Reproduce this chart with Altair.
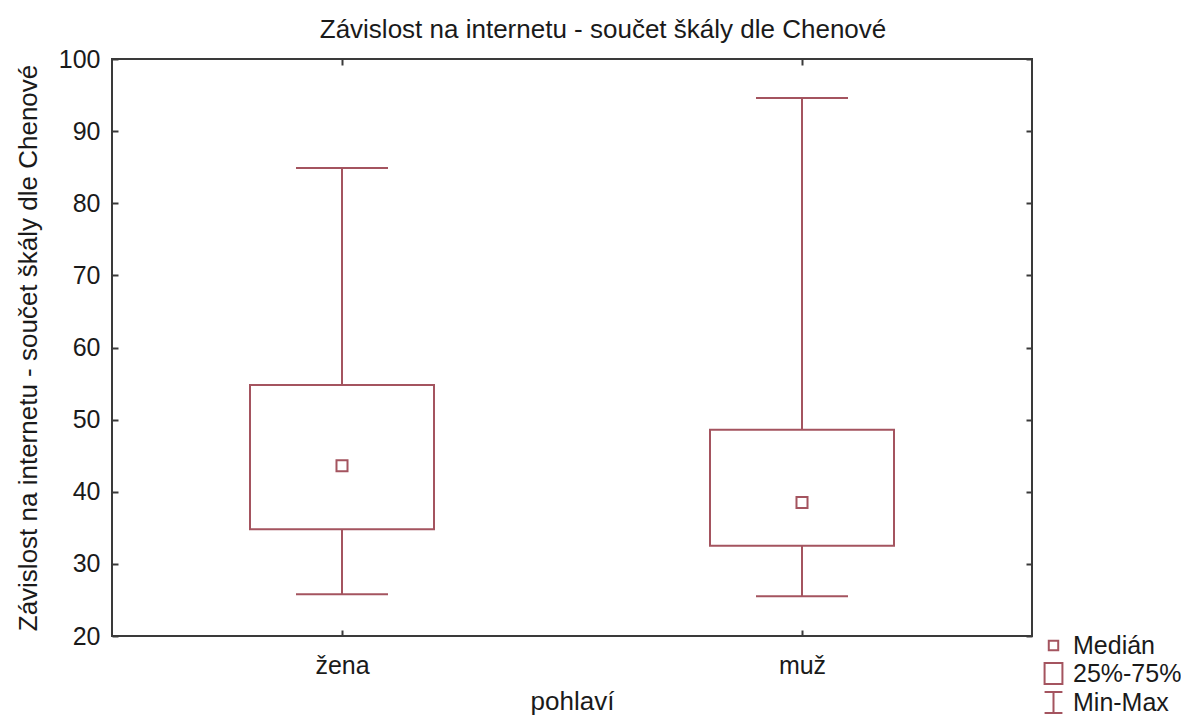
import altair as alt
import pandas as pd

# ---- data ----
categories = ["žena", "muž"]
mins = [25.8, 25.5]
q1s = [34.8, 32.5]
medians = [43.6, 38.5]
q3s = [54.8, 48.6]
maxs = [84.9, 94.6]
y_ticks = [20, 30, 40, 50, 60, 70, 80, 90, 100]
legend_labels = ["Medián", "25%-75%", "Min-Max"]

title_text = "Závislost na internetu - součet škály dle Chenové"
y_title = "Závislost na internetu - součet škály dle Chenové"
x_title = "pohlaví"

# ---- styles ----
COLOR = "#a4545f"
FRAME = "#3a3a3a"
TEXT = "#1a1a1a"
FONT = "Liberation Sans"

df = pd.DataFrame({
    "cat": categories,
    "min": mins,
    "q1": q1s,
    "median": medians,
    "q3": q3s,
    "max": maxs,
})
df["pos"] = df.index + 0.5
df["box_lo"] = df["pos"] - 0.2
df["box_hi"] = df["pos"] + 0.2
df["cap_lo"] = df["pos"] - 0.1
df["cap_hi"] = df["pos"] + 0.1
df["stat"] = legend_labels[0]

tick_pos = list(df["pos"])
label_expr = "'" + categories[-1] + "'"
for i in range(len(categories) - 2, -1, -1):
    label_expr = f"datum.value == {tick_pos[i]} ? '{categories[i]}' : " + label_expr

xscale = alt.Scale(domain=[0, len(categories)], nice=False, zero=False)
yscale = alt.Scale(domain=[20, 100], nice=False, zero=False)

shape_paths = [
    "M-0.45,-0.45H0.45V0.45H-0.45Z",
    "M-0.85,-1H0.85V1H-0.85Z",
    "M-0.85,-1H0.85M0,-1V1M-0.85,1H0.85",
]

base = alt.Chart(df)

# lower whiskers carry the left + bottom axes
lower = base.mark_rule(color=COLOR, strokeWidth=2).encode(
    x=alt.X("pos:Q", scale=xscale, axis=alt.Axis(
        orient="bottom", values=tick_pos, labelExpr=label_expr,
        title=x_title, offset=-6, tickSize=6, domain=False, grid=False,
        labelPadding=17, titleBaseline="alphabetic", titleY=79)),
    y=alt.Y("min:Q", scale=yscale, axis=alt.Axis(
        orient="left", values=y_ticks, title=y_title, offset=-6,
        tickSize=6, domain=False, grid=False, labelPadding=12,
        titleBaseline="alphabetic", titleX=-82)),
    y2="q1:Q",
)

# upper whiskers carry the top + right axes (ticks only)
upper = base.mark_rule(color=COLOR, strokeWidth=2).encode(
    x=alt.X("pos:Q", scale=xscale, axis=alt.Axis(
        orient="top", values=tick_pos, labels=False, title=None,
        offset=-6, tickSize=6, domain=False, grid=False)),
    y=alt.Y("q3:Q", scale=yscale, axis=alt.Axis(
        orient="right", values=y_ticks, labels=False, title=None,
        offset=-6, tickSize=6, domain=False, grid=False)),
    y2="max:Q",
)

cap_min = base.mark_rule(color=COLOR, strokeWidth=2).encode(
    x=alt.X("cap_lo:Q", scale=xscale, axis=None),
    x2="cap_hi:Q",
    y=alt.Y("min:Q", scale=yscale, axis=None),
)
cap_max = base.mark_rule(color=COLOR, strokeWidth=2).encode(
    x=alt.X("cap_lo:Q", scale=xscale, axis=None),
    x2="cap_hi:Q",
    y=alt.Y("max:Q", scale=yscale, axis=None),
)

box = base.mark_rect(fill="white", stroke=COLOR, strokeWidth=2).encode(
    x=alt.X("box_lo:Q", scale=xscale, axis=None),
    x2="box_hi:Q",
    y=alt.Y("q1:Q", scale=yscale, axis=None),
    y2="q3:Q",
)

median = base.mark_point(filled=False, color=COLOR, strokeWidth=2, size=600, opacity=1).encode(
    x=alt.X("pos:Q", scale=xscale, axis=None),
    y=alt.Y("median:Q", scale=yscale, axis=None),
    shape=alt.Shape("stat:N", scale=alt.Scale(domain=legend_labels, range=shape_paths),
                    legend=alt.Legend(
                        orient="none", legendX=929, legendY=574, title=None,
                        labelFont=FONT, labelFontSize=25, labelColor=TEXT,
                        symbolSize=441, symbolStrokeWidth=2, symbolStrokeColor=COLOR,
                        symbolFillColor="transparent", symbolOpacity=1,
                        padding=0, labelOffset=7, rowPadding=0)),
)

chart = alt.layer(lower, upper, box, cap_min, cap_max, median).resolve_axis(
    x="independent", y="independent"
).properties(
    width=920,
    height=577,
    autosize="none",
    padding={"left": 104, "top": 51, "right": 149, "bottom": 79},
    title=alt.TitleParams(
        text=title_text, font=FONT, fontSize=26, fontWeight="normal",
        color=TEXT, anchor="middle", frame="group", orient="top",
        offset=4, dx=31),
).configure_view(
    stroke=FRAME, strokeWidth=2
).configure_axis(
    tickColor=FRAME, tickWidth=2,
    labelFont=FONT, labelFontSize=25, labelColor=TEXT,
    titleFont=FONT, titleFontSize=26, titleFontWeight="normal", titleColor=TEXT,
)

chart.save("out.html", embed_options={"renderer": "svg", "actions": False})
